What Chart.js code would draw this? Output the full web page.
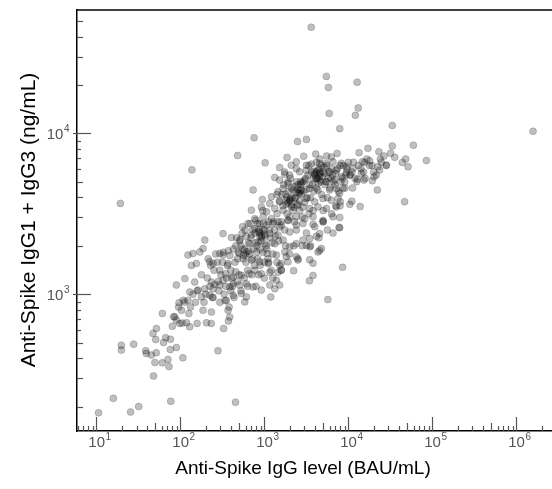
<!DOCTYPE html>
<html>
<head>
<meta charset="utf-8">
<script src="https://cdn.jsdelivr.net/npm/chart.js@4.4.1/dist/chart.umd.min.js"></script>
<style>
  html, body { margin: 0; padding: 0; background: #fff; overflow: hidden; }
  #wrap { width: 560px; height: 489px; }
</style>
</head>
<body>
<div id="wrap"><canvas id="scatter" width="560" height="489"></canvas></div>
<script>
// axis text
const xTitle = 'Anti-Spike IgG level (BAU/mL)';
const yTitle = 'Anti-Spike IgG1 + IgG3 (ng/mL)';
const xDecades = [1e1, 1e2, 1e3, 1e4, 1e5, 1e6];
const yDecades = [1e3, 1e4];
const minorSteps = [2, 3, 4, 5, 6, 7, 8, 9];

// anti-spike IgG (BAU/mL)
const spikeIgG = [
  3610, 5470, 5790, 12700, 13100, 5910, 12100, 7890, 33300, 1580000,
  59400, 84900, 3160, 2480, 755, 480, 1020, 137, 19.3, 734,
  46700, 13800, 10400, 7890, 7740, 8530, 5690, 3440, 3800,
  10.6, 15.9, 25.5, 31.8, 76.7, 453, 47.8, 73.1, 60.8, 49.7, 51.6, 107, 280, 373,
  // upper core
  1860, 2940, 4080, 6270, 7330, 1520, 2090, 2400, 3160, 3620, 4550, 5470, 6560,
  1330, 1750, 2000, 2630, 3160, 4160, 5220, 5980, 7190,
  1520, 1910, 2400, 3020, 3790, 4550, 5470, 6870,
  1210, 1450, 1670, 2190, 2750, 3460, 4350, 5980, 7190,
  946, 1160, 1520, 1830, 2300, 2630, 3160, 3970, 4990, 6270, 7530,
  700, 920, 1060, 1330, 1670, 2090, 2510, 3460, 4350, 5470, 7190,
  767, 964, 1210, 1910, 2400, 3020, 3790, 4990, 6560,
  // upper right arm
  13400, 17100, 14700, 15600, 17900, 23100, 26500, 31800, 33300,
  51300, 48100, 43900, 35600, 28300, 24700, 23500, 22500, 21500, 20200, 19300, 22100,
  15300, 12800, 14300, 11400, 9620, 9440, 9040, 8240, 8630, 11000, 8020, 8240, 10400, 7870,
  // middle band
  322, 405, 542, 638, 700, 879, 1060, 1270, 1450, 1520, 879, 767, 1160, 1450,
  508, 668, 841, 1010, 1330, 611, 803, 1080, 1390, 499, 557, 700, 879, 1110, 1520,
  767, 920, 1160, 1450, 656, 532, 424, 347, 294, 369, 322, 294, 245, 223,
  195, 186, 170, 141, 123, 155, 135, 113, 148, 162, 195, 234, 245, 294, 322,
  386, 424, 508, 611, 733, 920, 1160, 1390, 1330, 532, 424, 611, 353, 583,
  223, 178, 129, 108, 123, 186, 234, 369, 386, 103, 1190,
  1590, 1670, 2000, 2400, 2880, 3790, 4990, 6560, 7870, 4550, 4160, 3460, 2880,
  3160, 3460, 4550, 4760, 4350, 2400, 2000, 1750, 1820, 2400, 2510, 1910, 1590,
  3460, 3790, 2230, 1590, 1520,
  // lower tail
  61, 89.5, 96.2, 89.5, 85.5, 47.2, 51.8, 50.8, 66.8, 27.8, 19.8, 19.8, 38.6,
  39.3, 45.1, 75.9, 89.5, 71.1, 98, 118, 129, 158, 204, 233, 327, 80.2,
  // overlapping points in the dense core
  525, 603, 661, 724, 794, 832, 891, 933, 1000, 1047, 1122, 1175, 1259, 1318, 1413, 1479,
  759, 851, 1000, 1202, 692, 794, 955, 562, 631, 501, 447, 398, 355, 417, 316, 282,
  251, 224, 200, 372, 468, 550,
  1660, 1780, 1860, 2000, 2090, 2240, 2340, 2510, 2630, 2750, 2880, 3020, 3160, 3310,
  3550, 3720, 3980, 4170, 2000, 2290, 1580, 1910, 1740, 2400, 2820, 3390, 3800,
  4270, 4470, 4680, 5010, 5250, 5500, 5750, 6030, 6310, 6610, 7080, 7590, 7940, 8510,
  9120, 9550, 4790, 5620, 7080, 5010, 4570,
  10500, 11500, 12600, 14100, 15800, 17800, 20000, 24000, 28200, 11200,
  158, 178, 191, 214, 240, 263, 295, 331, 380, 398, 437, 479, 525, 575, 631, 708,
  794, 891, 1000, 1122, 1259, 1413, 1585, 1778, 1995, 2239, 2512, 2818, 3162, 3548,
  3981, 4467, 5012, 5623, 6310, 7943,
  83, 95, 105, 112, 126, 141, 132, 151, 76, 63,
  1620, 1700, 1820, 1950, 2040, 2140, 2290, 2450, 2570, 2690, 2950, 3090, 3240, 3470,
  3630, 3890, 4070, 4370, 4570, 4900, 5130, 5370, 5890, 6170, 2190, 1910, 2630, 2880,
  1510, 1410, 1740, 2400, 3390, 4170, 4790, 5500,
  513, 550, 589, 646, 676, 741, 776, 813, 871, 912, 977, 1020, 1070, 1150, 1230, 1290,
  1350, 832, 724, 955, 1100, 603, 490, 457,
  209, 229, 257, 275, 302, 324, 347, 363, 389, 407, 427, 457, 479, 288, 245, 339,
  6460, 6920, 7410, 8130, 8710, 9330, 10000, 11000, 12000, 13200, 15100, 16600, 19100,
  // darkest clumps
  4000, 4300, 4500, 3900, 4200, 4600, 2500, 2700, 2400, 2650, 2800,
  1900, 2050, 1850, 2100, 2000, 880, 950, 850, 920, 1000, 600, 650, 580
];

// anti-spike IgG1 + IgG3 (ng/mL), same order
const igg13 = [
  45700, 22600, 19300, 20800, 14400, 13300, 12950, 10700, 11200, 10300,
  8450, 6780, 9170, 8910, 9400, 7290, 6560, 5930, 3670, 4450,
  3760, 3510, 3620, 3000, 2600, 1468, 926, 1211, 1308,
  183, 225, 185, 200, 216, 213, 310, 355, 374, 376, 432, 402, 445, 681,
  7080, 7210, 7430, 7140, 7500, 6140, 6340, 6650, 6340, 6440, 6500, 6500, 6650,
  5320, 5570, 5500, 5770, 5900, 5770, 5640, 5770, 5900,
  5120, 4880, 5000, 5120, 5240, 5120, 5000, 5120,
  4030, 4330, 4540, 4440, 4440, 4540, 4440, 4440, 4540,
  3880, 3660, 3750, 3840, 3940, 4230, 3940, 3750, 3940, 3840, 3940,
  3330, 3490, 3250, 3410, 3330, 3490, 3570, 3410, 3490, 3410, 3490,
  2950, 3030, 2950, 2880, 3030, 2950, 3030, 2880, 3030,
  7590, 8070, 6670, 6600, 6760, 7690, 7230, 7520, 8340,
  6210, 6920, 6600, 7100, 6350, 6600, 5920, 6210, 5510, 5380, 5080, 4450,
  5130, 5180, 5640, 6050, 6210, 5690, 5000, 5380, 4550, 3790, 3760, 6520, 5510, 4240,
  2380, 2250, 2380, 2750, 2330, 2400, 2690, 2750, 2820, 2620, 2750, 2560, 2380, 2330,
  2140, 2060, 2110, 2060, 2060, 1830, 1830, 1790, 1750, 1790, 1660, 1630, 1590, 1550, 1510,
  1410, 1340, 1370, 1370, 1340, 1310, 1280, 1340, 1410, 1550, 1750, 1790, 1550, 1590,
  2170, 1920, 1830, 1790, 1750, 1550, 1510, 1250, 1190, 1060, 1080, 1190, 1080, 1140, 1220,
  1110, 1160, 1140, 1160, 1110, 1060, 1140, 1220, 1080, 1010, 985, 962, 916, 895,
  985, 962, 1030, 916, 916, 794, 774, 794, 721, 794, 962,
  2690, 2170, 2440, 2690, 2750, 2720, 2820, 2400, 2590, 2380, 2290, 2220, 2170,
  2010, 1970, 1870, 1920, 1830, 2060, 1970, 1830, 1710, 1710, 1630, 1590, 1550,
  1640, 1560, 1400, 1410, 1140,
  759, 1140, 883, 690, 723, 570, 612, 522, 536, 489, 482, 449, 445,
  428, 418, 453, 466, 393, 658, 664, 627, 658, 664, 658, 612, 632,
  2000, 2290, 1780, 2510, 2090, 2750, 1905, 2290, 2510, 2000, 2820, 2240, 1780, 2510, 3160, 2140,
  1510, 1320, 1580, 1410, 2240, 2880, 3310, 1740, 1410, 1320, 1580, 1410, 1260, 1120, 1580, 1200,
  1410, 1120, 1000, 1860, 2240, 2630,
  3550, 4170, 3160, 3800, 4570, 3470, 3980, 4790, 3310, 4170, 5010, 3720, 4470, 5500,
  3980, 4790, 5620, 4570, 3020, 2820, 2820, 5010, 2510, 2510, 3020, 3160, 3310,
  5250, 6030, 5010, 5750, 4790, 6310, 5250, 4570, 6030, 5010, 5620, 4370, 6310, 5250,
  4570, 6030, 4170, 3980, 3550, 3310, 6920,
  5500, 6610, 5010, 6030, 5250, 6310, 5750, 6920, 6310, 4570,
  1050, 1320, 891, 1660, 955, 1780, 891, 1000, 832, 1050, 955, 1200, 1050, 1260, 1120, 1320,
  1120, 1510, 1260, 1580, 1260, 1580, 1410, 2000, 1780, 2000, 1660, 2000, 2400, 2000,
  2630, 2240, 2820, 2510, 3160, 3550,
  724, 832, 661, 891, 759, 1000, 832, 891, 525, 501,
  4170, 4790, 3630, 4370, 5250, 3980, 4680, 3630, 4270, 5010, 4370, 5250, 3980, 4790,
  5750, 4370, 5250, 4900, 5620, 5370, 6170, 5010, 5750, 5250, 3310, 2880, 3800, 3470,
  3800, 4170, 5750, 6030, 6310, 6610, 6310, 7240,
  2190, 1910, 2510, 2090, 2750, 1910, 2400, 2000, 2510, 2140, 2750, 2290, 1910, 2510, 2090, 2820,
  2290, 1660, 1660, 1820, 1660, 1580, 1820, 2000,
  1260, 1510, 1150, 1580, 1320, 1820, 1120, 1510, 1740, 1260, 1910, 1380, 1660, 1050, 955, 912,
  5500, 4790, 6030, 5010, 6310, 5500, 6610, 5750, 5250, 6310, 5750, 6920, 6310,
  5500, 5900, 5400, 5800, 5200, 5700, 4500, 4800, 4300, 4400, 4900,
  3700, 3950, 4000, 3600, 3850, 2300, 2500, 2450, 2250, 2350, 1750, 1850, 1900
];

const points = spikeIgG.map((v, i) => ({ x: v, y: igg13[i] }));

const FONT = "'Liberation Sans', Arial, sans-serif";

function decadeLabel(ctx, value, px, py, align) {
  const exp = String(Math.round(Math.log10(value)));
  ctx.font = '15px ' + FONT;
  const wBase = ctx.measureText('10').width;
  ctx.font = '10px ' + FONT;
  const wExp = ctx.measureText(exp).width;
  const left = align === 'right' ? px - wBase - wExp : px - (wBase + wExp) / 2;
  ctx.textAlign = 'left';
  ctx.textBaseline = 'alphabetic';
  ctx.font = '15px ' + FONT;
  ctx.fillText('10', left, py);
  ctx.font = '10px ' + FONT;
  ctx.fillText(exp, left + wBase + 0.5, py - 7);
}

const axesPlugin = {
  id: 'axesDecor',
  afterDraw(chart) {
    const { ctx, chartArea: a, scales: { x, y } } = chart;
    ctx.save();
    // top frame line
    ctx.strokeStyle = '#000';
    ctx.lineWidth = 1.5;
    ctx.beginPath();
    ctx.moveTo(a.left, a.top);
    ctx.lineTo(chart.width, a.top);
    ctx.stroke();

    ctx.strokeStyle = '#555';
    ctx.lineWidth = 1.2;
    // x ticks
    const xVals = [];
    [1, ...xDecades].forEach(d => minorSteps.forEach(m => xVals.push(d * m)));
    xVals.forEach(v => {
      if (v < x.min || v > x.max) return;
      const px = Math.round(x.getPixelForValue(v)) + 0.5;
      const len = (v / Math.pow(10, Math.floor(Math.log10(v) + 1e-9))) === 5 ? 8 : 5;
      ctx.beginPath(); ctx.moveTo(px, a.bottom); ctx.lineTo(px, a.bottom - len); ctx.stroke();
    });
    xDecades.forEach(v => {
      const px = Math.round(x.getPixelForValue(v)) + 0.5;
      ctx.beginPath(); ctx.moveTo(px, a.bottom); ctx.lineTo(px, a.bottom - 14); ctx.stroke();
    });
    // y ticks
    const yVals = [];
    [100, ...yDecades].forEach(d => minorSteps.forEach(m => yVals.push(d * m)));
    yVals.forEach(v => {
      if (v < y.min || v > y.max) return;
      const py = Math.round(y.getPixelForValue(v)) + 0.5;
      const m = v / Math.pow(10, Math.floor(Math.log10(v) + 1e-9));
      const len = m <= 5 ? 6 : 4;
      ctx.beginPath(); ctx.moveTo(a.left, py); ctx.lineTo(a.left + len, py); ctx.stroke();
    });
    yDecades.forEach(v => {
      const py = Math.round(y.getPixelForValue(v)) + 0.5;
      ctx.beginPath(); ctx.moveTo(a.left - 4, py); ctx.lineTo(a.left + 14, py); ctx.stroke();
    });

    // tick labels
    ctx.fillStyle = '#555';
    xDecades.forEach(v => decadeLabel(ctx, v, x.getPixelForValue(v) + 3, a.bottom + 16, 'center'));
    yDecades.forEach(v => decadeLabel(ctx, v, a.left - 8, y.getPixelForValue(v) + 6, 'right'));

    // axis titles
    ctx.fillStyle = '#000';
    ctx.textAlign = 'center';
    ctx.textBaseline = 'alphabetic';
    ctx.font = '19px ' + FONT;
    ctx.fillText(xTitle, 303, 474);
    ctx.font = '21px ' + FONT;
    ctx.translate(35, 220);
    ctx.rotate(-Math.PI / 2);
    ctx.fillText(yTitle, 0, 0);
    ctx.restore();
  }
};

new Chart(document.getElementById('scatter').getContext('2d'), {
  type: 'scatter',
  data: {
    datasets: [{
      data: points,
      backgroundColor: 'rgba(0,0,0,0.25)',
      borderColor: 'rgba(0,0,0,0.22)',
      borderWidth: 0.8,
      pointRadius: 3.5,
      pointHoverRadius: 3.5
    }]
  },
  options: {
    responsive: false,
    animation: false,
    layout: { padding: { top: 10, right: 4, left: 0, bottom: 0 } },
    plugins: { legend: { display: false }, tooltip: { enabled: false } },
    scales: {
      x: {
        type: 'logarithmic',
        min: 5.87,
        max: 2.94e6,
        grid: { display: false, drawTicks: false },
        border: { display: true, color: '#000', width: 1.5 },
        ticks: { display: false },
        afterFit: s => { s.height = 58; }
      },
      y: {
        type: 'logarithmic',
        min: 141,
        max: 58500,
        grid: { display: false, drawTicks: false },
        border: { display: true, color: '#000', width: 1.5 },
        ticks: { display: false },
        afterFit: s => { s.width = 77; }
      }
    }
  },
  plugins: [axesPlugin]
});
</script>
</body>
</html>
